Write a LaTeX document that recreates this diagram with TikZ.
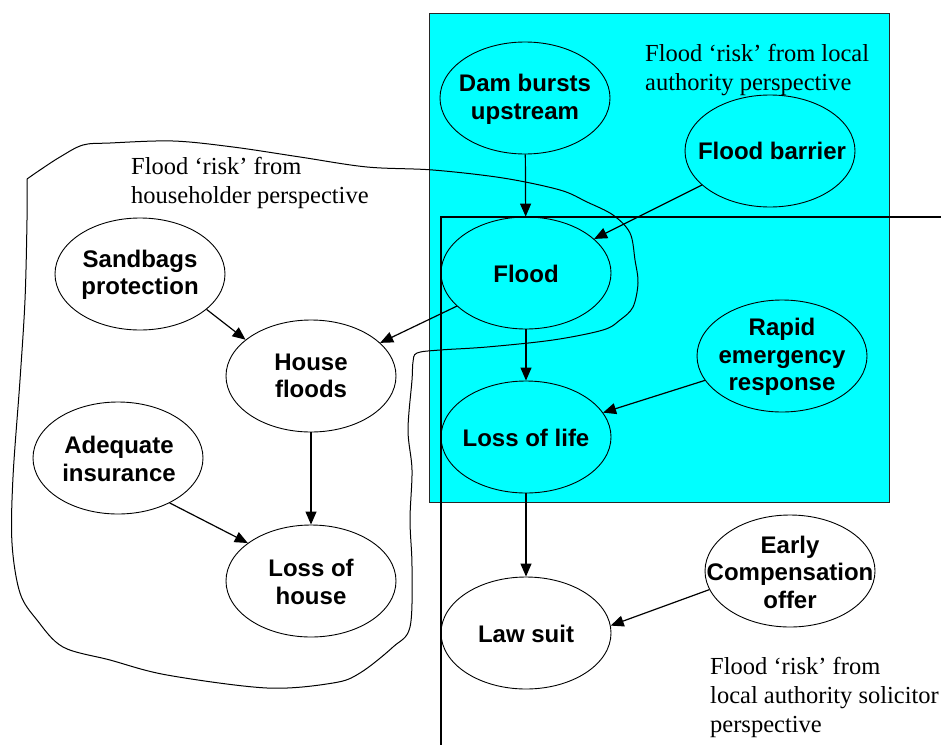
\documentclass[tikz,border=0pt]{standalone}
\usepackage{fontspec}
\setmainfont{Liberation Serif}
\setsansfont{Liberation Sans}
\usetikzlibrary{shapes.geometric,arrows.meta}
\definecolor{aqua}{RGB}{0,255,255}
\tikzset{
  bub/.style={ellipse, draw, line width=0.9pt, minimum width=170pt, minimum height=112pt, inner sep=0pt},
  btxt/.style={font=\sffamily\bfseries\fontsize{24}{27.5}\selectfont, align=center, inner sep=0pt},
  lbl/.style={font=\fontsize{24.5}{28.8}\selectfont, align=left, inner sep=0pt, anchor=base west},
  arr/.style={-{Triangle[length=13pt,width=11pt]}, line width=1.2pt},
  frame/.style={line width=1.3pt},
}
\begin{document}
\begin{tikzpicture}[x=1pt,y=-1pt]
\useasboundingbox (0,0) rectangle (941,744);
\clip (0,0) rectangle (941,744);
% cyan area
\fill[aqua] (429,13) rectangle (889,502);
\draw[line width=1pt, black!85] (429,13) rectangle (889,502);
% solicitor frame
\draw[frame] (950,217) -- (441,217) -- (441,750);
% householder freehand curve
\draw[line width=1pt] plot[smooth, tension=0.55] coordinates {
 (27,179) (40,170) (60,157) (83,145) (110,143) (173,141) (233,147) (300,157) (367,167)
 (433,170) (503,178) (560,190) (587,202) (613,215) (630,233) (635,260) (638,283) (633,307)
 (620,320) (603,330) (553,340) (487,347) (440,350) (417,353) (413,362) (412,380) (408,430)
 (412,470) (410,520) (412,567) (410,627) (393,647) (360,673) (333,683) (267,688) (167,675)
 (110,660) (63,647) (37,620) (20,593) (12,543) (13,477) (20,380) (25,300) (27,220) (27,179)};
% labels (anchor at baseline of last line)
\node[lbl] (lblH) at (131,203) {Flood ‘risk’ from\\householder perspective};
\node[lbl] (lblA) at (645,90) {Flood ‘risk’ from local\\authority perspective};
\node[lbl] (lblS) at (710,732) {Flood ‘risk’ from\\local authority solicitor\\perspective};
% ellipses
\node[bub] (dam) at (525,98) {};
\node[bub] (bar) at (770,151) {};
\node[bub] (fl) at (526,273) {};
\node[bub] (sb) at (140,274) {};
\node[bub] (hf) at (311,376) {};
\node[bub] (ai) at (118,458) {};
\node[bub] (lh) at (311,581) {};
\node[bub] (rer) at (782,356) {};
\node[bub] (ll) at (526,437) {};
\node[bub] (ls) at (526,633) {};
\node[bub] (ec) at (790,571) {};
% texts
\node[btxt] (damT) at (525,99.5) {Dam bursts\\upstream};
\node[btxt] (barT) at (772,151) {Flood barrier};
\node[btxt] (flT) at (526,274) {Flood};
\node[btxt] (sbT) at (140,275) {Sandbags\\protection};
\node[btxt] (hfT) at (311,376) {House\\floods};
\node[btxt] (aiT) at (119,459) {Adequate\\insurance};
\node[btxt] (lhT) at (311,582) {Loss of\\house};
\node[btxt] (rerT) at (782,357) {Rapid\\emergency\\response};
\node[btxt] (llT) at (526,438) {Loss of life};
\node[btxt] (lsT) at (526,634) {Law suit};
\node[btxt] (ecT) at (790,572) {Early\\Compensation\\offer};
% arrows
\draw[arr] (dam) -- (fl);
\draw[arr] (bar) -- (fl);
\draw[arr] (fl) -- (hf);
\draw[arr] (sb.-28) -- (hf.151);
\draw[arr] (ai.-41) -- (lh.149);
\draw[arr] (fl) -- (ll);
\draw[arr] (rer) -- (ll);
\draw[arr] (hf) -- (lh);
\draw[arr] (ll) -- (ls);
\draw[arr] (ec.193) -- (ls.5);
\end{tikzpicture}
\end{document}
